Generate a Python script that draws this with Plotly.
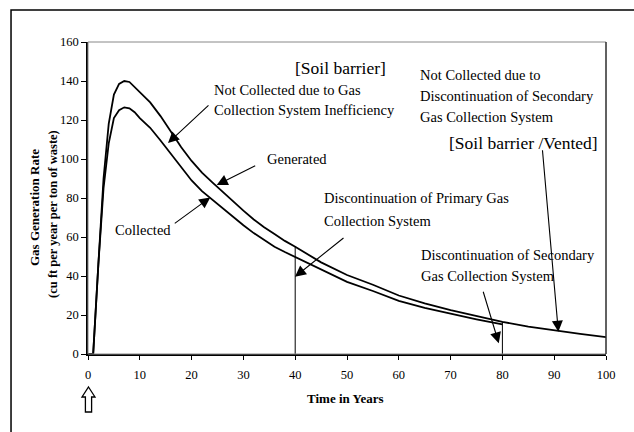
import plotly.graph_objects as go

# ---------------- data ----------------
years = [0, 1, 2, 3, 4, 5, 6, 7, 8, 9, 10, 12, 14, 16, 18, 20, 22, 24, 26, 28, 30,
         32, 34, 36, 38, 40, 45, 50, 55, 60, 65, 70, 75, 80, 85, 90, 95, 100]
generated = [0, 0, 46, 90, 118, 133, 138.5, 140, 139.5, 137, 134, 129, 122, 114, 106,
             99, 93, 88, 83, 78, 73.5, 69, 65, 61.5, 58, 55, 47, 40.5, 35.5, 30,
             26, 22.5, 19.5, 16.5, 14, 12, 10.3, 8.7]

collected_years = [0, 1, 2, 3, 4, 5, 6, 7, 8, 9, 10, 12, 14, 16, 18, 20, 22, 24, 26, 28,
                   30, 32, 34, 36, 38, 40, 45, 50, 55, 60, 65, 70, 75, 80]
collected = [0, 0, 46, 85, 108, 121, 125, 126.5, 126, 124, 121, 116, 109.5, 102.5, 95.5,
             89, 83.5, 79, 74.5, 70, 66, 62, 58.5, 55, 52.3, 49.8, 43.2, 37, 32.3, 27.3,
             23.6, 20.5, 17.8, 15.2]

primary_stop = 40      # discontinuation of primary gas collection system (year)
secondary_stop = 80    # discontinuation of secondary gas collection system (year)

x_ticks = [0, 10, 20, 30, 40, 50, 60, 70, 80, 90, 100]
y_ticks = [0, 20, 40, 60, 80, 100, 120, 140, 160]

SERIF = "Liberation Serif"

fig = go.Figure()

fig.add_trace(go.Scatter(x=years, y=generated, mode="lines", name="Generated",
                         line=dict(color="black", width=1.8)))
fig.add_trace(go.Scatter(x=collected_years, y=collected, mode="lines", name="Collected",
                         line=dict(color="black", width=1.8)))

# vertical markers at the discontinuation years, from the axis up to the generated curve
for stop in (primary_stop, secondary_stop):
    gval = generated[years.index(stop)]
    fig.add_trace(go.Scatter(x=[stop, stop], y=[0, gval], mode="lines",
                             line=dict(color="black", width=1), hoverinfo="skip"))

# ---------------- text labels ----------------
labels = [
    ("[Soil barrier]", 39.58, 146.67, 17.5),
    ("Not Collected due to Gas", 23.94, 135.38, 14.5),
    ("Collection System Inefficiency", 23.94, 125.13, 14.5),
    ("Generated", 34.17, 100.0, 14.5),
    ("Collected", 4.83, 63.59, 14.5),
    ("Discontinuation of Primary Gas", 45.12, 80.0, 14.5),
    ("Collection System", 45.12, 68.36, 14.5),
    ("Not Collected due to", 63.76, 143.08, 14.5),
    ("Discontinuation of Secondary", 63.76, 132.46, 14.5),
    ("Gas Collection System", 63.76, 121.69, 14.5),
    ("[Soil barrier /Vented]", 69.25, 108.05, 17.5),
    ("Discontinuation of Secondary", 63.9, 50.77, 14.5),
    ("Gas Collection System", 63.9, 40.0, 14.5),
]
annotations = []
for txt, x, y, sz in labels:
    annotations.append(dict(text=txt, x=x, y=y, xref="x", yref="y", xanchor="left",
                            yanchor="middle", showarrow=False,
                            font=dict(family=SERIF, size=sz, color="black")))

# arrows: tip in data coordinates, tail as pixel offset
arrows = [
    (15.44, 108.2, 42, -39),
    (24.85, 86.7, 40, -20),
    (23.6, 80.3, -37, 27),
    (39.96, 39.6, 50, -40),
    (90.8, 11.4, -16, -183),
    (79.3, 5.5, -16, -53),
]
for x, y, ax, ay in arrows:
    annotations.append(dict(x=x, y=y, xref="x", yref="y", ax=ax, ay=ay, text="",
                            showarrow=True, arrowhead=2, arrowsize=2.0, arrowwidth=1.1,
                            arrowcolor="black", standoff=0))

# axis titles
annotations.append(dict(text="<b>Gas Generation Rate</b>", x=-0.1023, y=0.468,
                        xref="paper", yref="paper", textangle=-90, showarrow=False,
                        xanchor="center", yanchor="middle",
                        font=dict(family=SERIF, size=13, color="black")))
annotations.append(dict(text="<b>(cu ft per year per ton of waste)</b>", x=-0.0676, y=0.449,
                        xref="paper", yref="paper", textangle=-90, showarrow=False,
                        xanchor="center", yanchor="middle",
                        font=dict(family=SERIF, size=12.5, color="black")))
annotations.append(dict(text="<b>Time in Years</b>", x=0.498, y=-0.144,
                        xref="paper", yref="paper", showarrow=False,
                        xanchor="center", yanchor="middle",
                        font=dict(family=SERIF, size=13, color="black")))

shapes = [
    # plot frame (top / right)
    dict(type="rect", xref="paper", yref="paper", x0=0, x1=1, y0=0, y1=1,
         line=dict(color="#888888", width=1)),
    dict(type="line", xref="paper", yref="paper", x0=1, x1=1, y0=0, y1=1,
         line=dict(color="black", width=1)),
    # outer border of the figure
    dict(type="rect", xref="paper", yref="paper", x0=-0.1486, x1=1.5, y0=-0.6, y1=1.1026,
         line=dict(color="black", width=1.5)),
    # hollow upward arrow marking year 0
    dict(type="path", xref="paper", yref="paper", xsizemode="pixel", ysizemode="pixel",
         xanchor=0, yanchor=0,
         path="M 0.5,-33 L 7,-43 L 3.6,-43 L 3.6,-58 L -2.6,-58 L -2.6,-43 L -6,-43 Z",
         fillcolor="white", line=dict(color="black", width=1.3)),
]

fig.update_layout(
    width=634, height=432,
    margin=dict(l=88, r=28, t=42, b=78),
    paper_bgcolor="white", plot_bgcolor="white",
    showlegend=False,
    annotations=annotations,
    shapes=shapes,
    xaxis=dict(range=[0, 100], tickvals=x_ticks, ticks="outside", ticklen=4,
               tickcolor="black", tickwidth=1, showline=True, linecolor="black",
               linewidth=1.5, showgrid=False, zeroline=False, ticklabelstandoff=4,
               tickfont=dict(family=SERIF, size=12.5, color="black")),
    yaxis=dict(range=[0, 160], tickvals=y_ticks, ticks="outside", ticklen=5,
               tickcolor="black", tickwidth=1, showline=True, linecolor="black",
               linewidth=1.5, showgrid=False, zeroline=False,
               tickfont=dict(family=SERIF, size=12.5, color="black")),
)

fig.write_html("out.html", config={"displayModeBar": False},
               post_script="document.body.style.margin='0';document.body.style.overflow='hidden';")
